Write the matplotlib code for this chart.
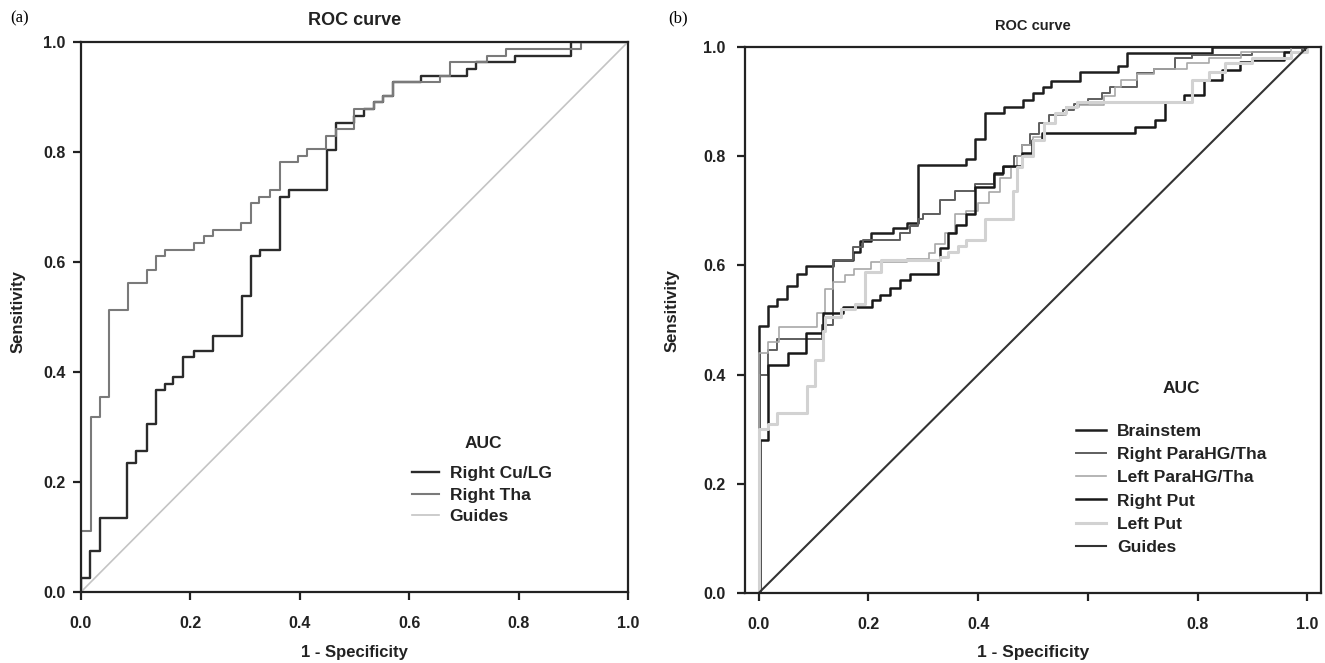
import matplotlib
matplotlib.use("Agg")
import matplotlib.pyplot as plt

plt.rcParams['font.family'] = ['Liberation Sans', 'DejaVu Sans']

# ---- panel (a) data: ROC step points (fpr, tpr) ----
a_cu_fpr = [0, 0, 0.017, 0.034, 0.084, 0.101, 0.12, 0.137, 0.153, 0.169, 0.187, 0.207, 0.242,
            0.294, 0.311, 0.327, 0.363, 0.38, 0.449, 0.466, 0.50, 0.518, 0.535, 0.552, 0.57,
            0.622, 0.706, 0.723, 0.793, 0.896, 1.0]
a_cu_tpr = [0, 0.025, 0.074, 0.135, 0.234, 0.257, 0.305, 0.367, 0.378, 0.39, 0.427, 0.439, 0.466,
            0.538, 0.611, 0.622, 0.719, 0.73, 0.804, 0.853, 0.866, 0.878, 0.89, 0.901, 0.927,
            0.939, 0.951, 0.963, 0.975, 1.0, 1.0]

a_tha_fpr = [0, 0, 0.018, 0.035, 0.052, 0.086, 0.121, 0.137, 0.154, 0.206, 0.225, 0.241, 0.292,
             0.311, 0.326, 0.345, 0.363, 0.397, 0.414, 0.448, 0.466, 0.50, 0.535, 0.552, 0.57,
             0.656, 0.674, 0.743, 0.777, 0.915, 1.0]
a_tha_tpr = [0, 0.11, 0.319, 0.355, 0.513, 0.561, 0.585, 0.61, 0.622, 0.635, 0.647, 0.659, 0.671,
             0.708, 0.719, 0.731, 0.781, 0.793, 0.805, 0.829, 0.841, 0.878, 0.89, 0.901, 0.927,
             0.939, 0.963, 0.975, 0.987, 1.0, 1.0]

a_labels = ['Right Cu/LG', 'Right Tha', 'Guides']

# ---- panel (b) data ----
b_brain_fpr = [0, 0, 0.017, 0.034, 0.051, 0.069, 0.087, 0.136, 0.171, 0.185, 0.204, 0.245, 0.27,
               0.291, 0.378, 0.394, 0.412, 0.447, 0.482, 0.50, 0.518, 0.533, 0.585, 0.655, 0.672,
               0.827, 1.0]
b_brain_tpr = [0, 0.489, 0.526, 0.538, 0.562, 0.584, 0.599, 0.61, 0.625, 0.645, 0.659, 0.668, 0.678,
               0.783, 0.795, 0.831, 0.879, 0.891, 0.903, 0.915, 0.926, 0.938, 0.954, 0.966, 0.989,
               1.0, 1.0]

b_rpara_fpr = [0, 0, 0.016, 0.033, 0.115, 0.136, 0.171, 0.19, 0.258, 0.275, 0.29, 0.30, 0.331,
               0.358, 0.395, 0.428, 0.446, 0.465, 0.48, 0.495, 0.51, 0.53, 0.555, 0.575, 0.60,
               0.625, 0.64, 0.689, 0.72, 0.759, 0.79, 0.90, 0.99, 1.0]
b_rpara_tpr = [0, 0.40, 0.445, 0.465, 0.49, 0.61, 0.634, 0.647, 0.66, 0.672, 0.685, 0.695, 0.72,
               0.736, 0.75, 0.765, 0.78, 0.80, 0.82, 0.84, 0.86, 0.875, 0.885, 0.895, 0.905,
               0.915, 0.927, 0.952, 0.96, 0.979, 0.985, 0.99, 1.0, 1.0]

b_lpara_fpr = [0, 0, 0.016, 0.036, 0.107, 0.121, 0.136, 0.158, 0.174, 0.205, 0.27, 0.31, 0.322,
               0.34, 0.358, 0.378, 0.40, 0.42, 0.44, 0.46, 0.47, 0.48, 0.50, 0.52, 0.54, 0.56,
               0.583, 0.63, 0.65, 0.66, 0.689, 0.72, 0.78, 0.82, 0.88, 0.97, 1.0]
b_lpara_tpr = [0, 0.44, 0.46, 0.488, 0.512, 0.556, 0.57, 0.582, 0.594, 0.606, 0.612, 0.622, 0.64,
               0.66, 0.695, 0.70, 0.715, 0.735, 0.76, 0.78, 0.80, 0.82, 0.835, 0.86, 0.875, 0.89,
               0.894, 0.91, 0.927, 0.94, 0.95, 0.96, 0.97, 0.98, 0.99, 1.0, 1.0]

b_rput_fpr = [0, 0.003, 0.017, 0.053, 0.086, 0.118, 0.154, 0.206, 0.221, 0.24, 0.258, 0.275, 0.327,
              0.331, 0.345, 0.36, 0.378, 0.395, 0.428, 0.446, 0.48, 0.498, 0.516, 0.686, 0.723,
              0.741, 0.775, 0.811, 0.844, 0.878, 0.899, 0.958, 0.995, 1.0]
b_rput_tpr = [0, 0.28, 0.418, 0.439, 0.477, 0.512, 0.524, 0.537, 0.546, 0.558, 0.573, 0.584, 0.61,
              0.632, 0.659, 0.674, 0.695, 0.744, 0.769, 0.782, 0.806, 0.83, 0.842, 0.853, 0.866,
              0.90, 0.912, 0.94, 0.958, 0.973, 0.977, 0.99, 1.0, 1.0]

b_lput_fpr = [0, 0, 0.016, 0.033, 0.088, 0.103, 0.118, 0.121, 0.15, 0.175, 0.193, 0.222, 0.33,
              0.345, 0.363, 0.378, 0.413, 0.463, 0.47, 0.48, 0.50, 0.52, 0.54, 0.56, 0.58,
              0.79, 0.82, 0.85, 0.90, 0.97, 1.0]
b_lput_tpr = [0, 0.30, 0.31, 0.329, 0.38, 0.427, 0.48, 0.506, 0.52, 0.53, 0.587, 0.61, 0.615,
              0.625, 0.635, 0.646, 0.685, 0.736, 0.78, 0.80, 0.83, 0.86, 0.88, 0.89, 0.90,
              0.94, 0.955, 0.97, 0.98, 0.99, 1.0]

b_labels = ['Brainstem', 'Right ParaHG/Tha', 'Left ParaHG/Tha', 'Right Put', 'Left Put', 'Guides']

guide = [0, 1]
ticks = [0.0, 0.2, 0.4, 0.6, 0.8, 1.0]
tick_labels = ['0.0', '0.2', '0.4', '0.6', '0.8', '1.0']
b_xtick_labels = ['0.0', '0.2', '0.4', '', '0.8', '1.0']


def style_axes(ax, xpad, ypad, size):
    for s in ax.spines.values():
        s.set_linewidth(1.6)
        s.set_color('#222222')
    ax.tick_params(direction='out', length=6, width=1.6, color='#222222', labelsize=size)
    ax.tick_params(axis='x', pad=xpad)
    ax.tick_params(axis='y', pad=ypad)
    for lab in ax.get_xticklabels() + ax.get_yticklabels():
        lab.set_fontweight('bold')
        lab.set_color('#222222')


fig = plt.figure(figsize=(13.25, 6.63), dpi=100)
ax1 = fig.add_axes([0.0611, 0.1071, 0.4128, 0.8296])
ax2 = fig.add_axes([0.5623, 0.1056, 0.4347, 0.8235])

# ---- panel (a) ----
ax1.plot(a_cu_fpr, a_cu_tpr, drawstyle='steps-post', color='#2b2b2b', lw=1.7, label=a_labels[0])
ax1.plot(a_tha_fpr, a_tha_tpr, drawstyle='steps-post', color='#7a7a7a', lw=1.5, label=a_labels[1])
ax1.plot(guide, guide, color='#c4c4c4', lw=1.2, label=a_labels[2])
ax1.set_xlim(0, 1)
ax1.set_ylim(0, 1)
ax1.set_xticks(ticks)
ax1.set_xticklabels(tick_labels)
ax1.set_yticks(ticks)
ax1.set_yticklabels(tick_labels)
style_axes(ax1, 11, 5, 11.5)
ax1.set_title('ROC curve', fontsize=13, fontweight='bold', pad=12, color='#222222')
ax1.set_xlabel('1 - Specificity', fontsize=12, fontweight='bold', color='#222222')
ax1.set_ylabel('Sensitivity', fontsize=12, fontweight='bold', color='#222222')
ax1.xaxis.set_label_coords(0.5, -0.096)
ax1.yaxis.set_label_coords(-0.102, 0.51)
ax1.text(0.735, 0.27, 'AUC', transform=ax1.transAxes, ha='center', va='center',
         fontsize=12.5, fontweight='bold', color='#222222')
leg1 = ax1.legend(loc='upper left', bbox_to_anchor=(0.605, 0.229), frameon=False,
                  fontsize=12.5, handlelength=1.55, handletextpad=0.63, labelspacing=0.36,
                  borderpad=0, borderaxespad=0)
for t in leg1.get_texts():
    t.set_fontweight('bold')
    t.set_color('#222222')

# ---- panel (b) ----
ax2.plot(b_brain_fpr, b_brain_tpr, drawstyle='steps-post', color='#1e1e1e', lw=1.8, label=b_labels[0])
ax2.plot(b_rpara_fpr, b_rpara_tpr, drawstyle='steps-post', color='#5e5e5e', lw=1.4, label=b_labels[1])
ax2.plot(b_lpara_fpr, b_lpara_tpr, drawstyle='steps-post', color='#a8a8a8', lw=1.2, label=b_labels[2])
ax2.plot(b_rput_fpr, b_rput_tpr, drawstyle='steps-post', color='#181818', lw=1.8, label=b_labels[3])
ax2.plot(b_lput_fpr, b_lput_tpr, drawstyle='steps-post', color='#d2d2d2', lw=2.2, label=b_labels[4])
ax2.plot(guide, guide, color='#333333', lw=1.5, label=b_labels[5])
ax2.set_xlim(-0.025, 1.025)
ax2.set_ylim(0, 1)
ax2.set_xticks(ticks)
ax2.set_xticklabels(b_xtick_labels)
ax2.set_yticks(ticks)
ax2.set_yticklabels(tick_labels)
style_axes(ax2, 11, 8, 11.5)
ax2.set_title('ROC curve', fontsize=10.5, fontweight='bold', pad=12, color='#222222')
ax2.set_xlabel('1 - Specificity', fontsize=12.5, fontweight='bold', color='#222222')
ax2.set_ylabel('Sensitivity', fontsize=12, fontweight='bold', color='#222222')
ax2.xaxis.set_label_coords(0.5, -0.095)
ax2.yaxis.set_label_coords(-0.113, 0.518)
ax2.text(0.757, 0.375, 'AUC', transform=ax2.transAxes, ha='center', va='center',
         fontsize=12.5, fontweight='bold', color='#222222')
leg2 = ax2.legend(loc='upper left', bbox_to_anchor=(0.575, 0.3095), frameon=False,
                  fontsize=12.5, handlelength=1.73, handletextpad=0.63, labelspacing=0.46,
                  borderpad=0, borderaxespad=0)
for t in leg2.get_texts():
    t.set_fontweight('bold')
    t.set_color('#222222')

fig.text(10 / 1325, 1 - 18 / 663, '(a)', fontsize=12, family=['Liberation Serif', 'DejaVu Serif'],
         va='center', ha='left')
fig.text(668 / 1325, 1 - 18 / 663, '(b)', fontsize=12, family=['Liberation Serif', 'DejaVu Serif'],
         va='center', ha='left')

fig.savefig('out.png', dpi=100)
